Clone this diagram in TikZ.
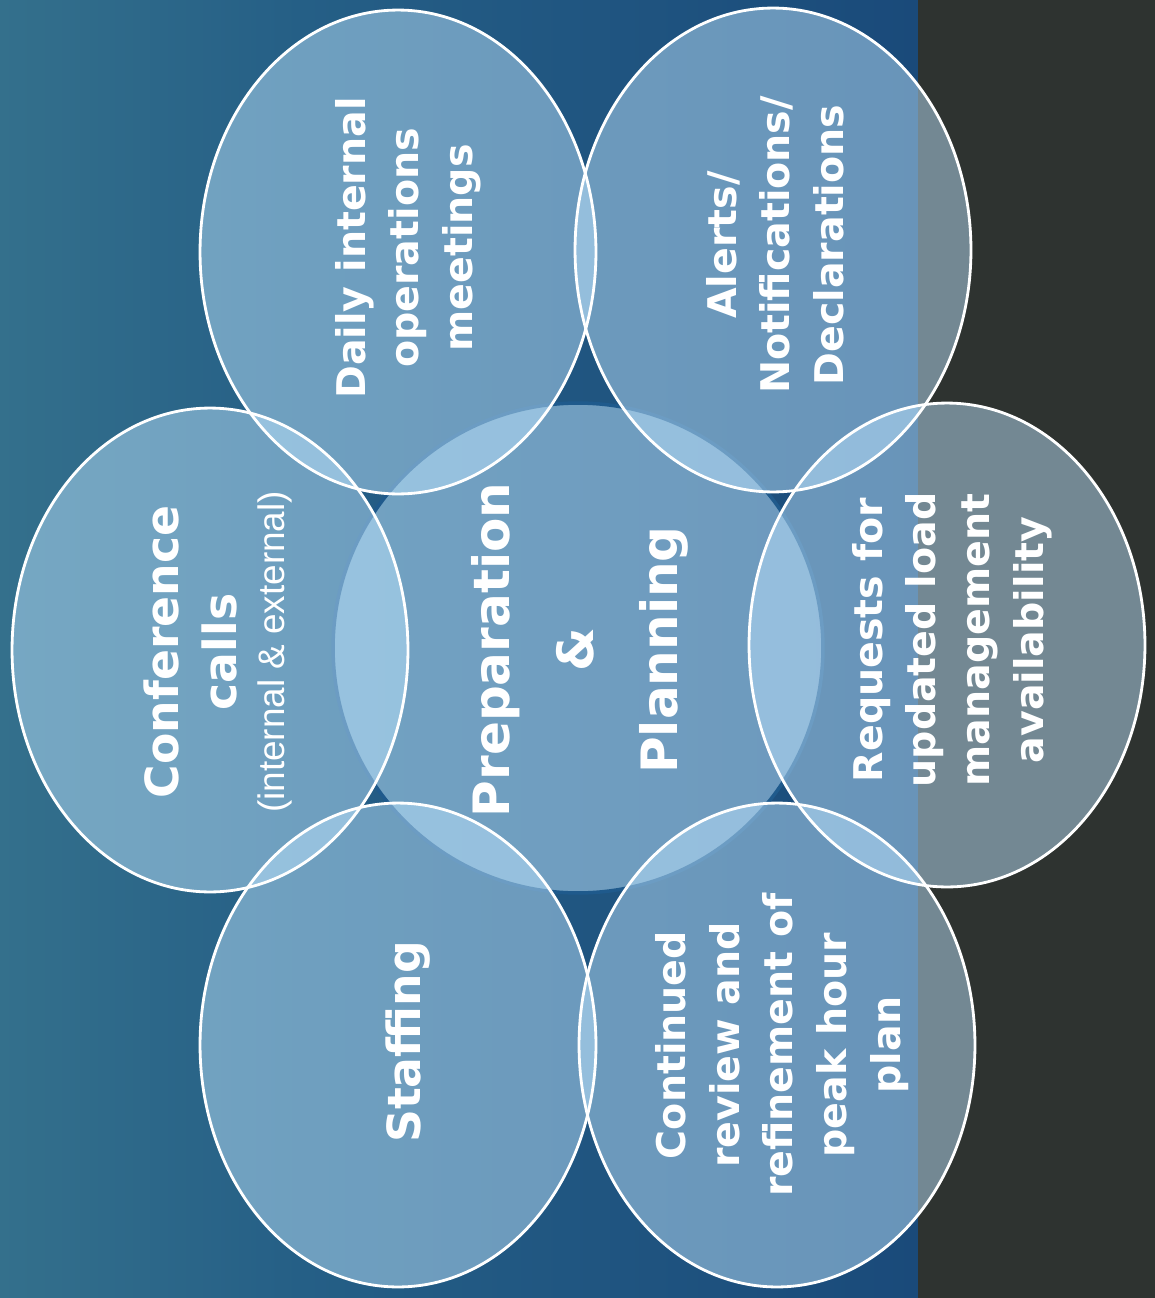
\documentclass[tikz,border=0pt]{standalone}
\usepackage{fontspec}
\setmainfont{DejaVu Sans}
\setsansfont{Liberation Sans}
\usetikzlibrary{shapes.geometric}

\definecolor{bgteal}{HTML}{34708C}
\definecolor{bgmid}{HTML}{255F86}
\definecolor{bgnavy}{HTML}{1A4A7A}
\definecolor{panelgray}{HTML}{2E3330}
\definecolor{bubblefill}{HTML}{C0E6FF}
\definecolor{rimblue}{HTML}{1F5A8C}

\tikzset{
  bubble/.style={ellipse, inner sep=0pt, minimum width=7.92cm, minimum height=9.68cm,
    fill=bubblefill, fill opacity=0.48},
  rim/.style={draw=white, line width=1.6pt},
  lbl/.style={text=white, align=center, rotate=90, inner sep=0pt,
    font={\bfseries\fontsize{22.5}{30.5}\selectfont}},
}

\begin{document}
\begin{tikzpicture}[x=0.02cm, y=-0.02cm]
    \useasboundingbox (0,0) rectangle (1155,1298);

    % the background
    \shade[left color=bgteal, right color=bgmid] (0,0) rectangle (300,1298);
    \shade[left color=bgmid, right color=bgnavy] (300,0) rectangle (918,1298);
    \fill[panelgray] (918,0) rectangle (1155,1298);

    % the centre disc
    \node[circle, minimum size=9.8cm, inner sep=0pt, fill=bubblefill, fill opacity=0.5,
      draw=rimblue, line width=2pt] (prep) at (578,648) {};

    % the six bubbles round it
    \node[bubble] (daily) at (398,252) {};
    \node[bubble] (alerts) at (773,250) {};
    \node[bubble] (confer) at (210,650) {};
    \node[bubble] (requests) at (947,645) {};
    \node[bubble] (staff) at (398,1045) {};
    \node[bubble] (review) at (777,1045) {};

    % white rims on top of all fills
    \foreach \b in {daily,alerts,confer,requests,staff,review}
      \draw[rim] (\b.center) ellipse [x radius=3.96cm, y radius=4.84cm];

    % the texts
    \node[lbl, font={\bfseries\fontsize{28.5}{48}\selectfont}] (preptxt) at (580,650)
      {Preparation\\\&\\Planning};
    \node[lbl] (dailytxt) at (408,248) {Daily internal\\operations\\meetings};
    \node[lbl] (alertstxt) at (775,245) {Alerts/\\Notifications/\\Declarations};
    \node[lbl, font={\bfseries\fontsize{26}{33}\selectfont}] (confertxt) at (218,652)
      {Conference\\calls\\[-6pt]{\sffamily\mdseries\fontsize{21}{25}\selectfont(internal \& external)}};
    \node[lbl] (requeststxt) at (952,640) {Requests for\\updated load\\management\\availability};
    \node[lbl, font={\bfseries\fontsize{26}{33}\selectfont}] (stafftxt) at (408,1042) {Staffing};
    \node[lbl] (reviewtxt) at (782,1045) {Continued\\review and\\refinement of\\peak hour\\plan};
\end{tikzpicture}
\end{document}
